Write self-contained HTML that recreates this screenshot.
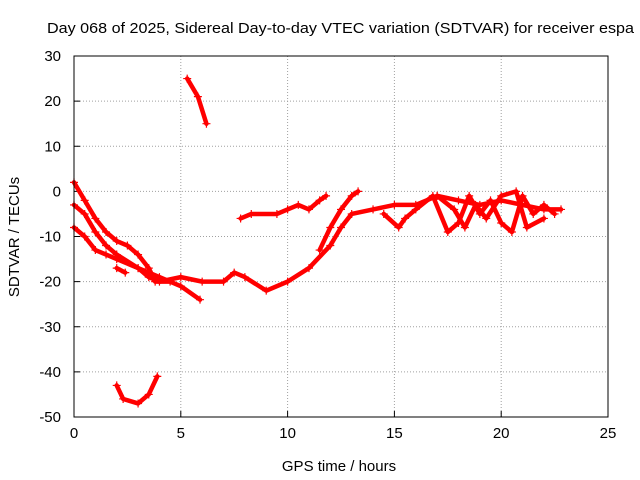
<!DOCTYPE html>
<html><head><meta charset="utf-8"><style>
body{margin:0;background:#fff}
svg{display:block;font-family:"Liberation Sans",sans-serif}
</style></head><body>
<svg id="chart" width="640" height="480">
<text x="47" y="33" font-size="15" textLength="587" lengthAdjust="spacingAndGlyphs">Day 068 of 2025, Sidereal Day-to-day VTEC variation (SDTVAR) for receiver espa</text>
<text x="339" y="471" font-size="15" text-anchor="middle">GPS time / hours</text>
<text transform="translate(19,237) rotate(-90)" font-size="15" text-anchor="middle">SDTVAR / TECUs</text>
<g id="grid"></g>
<g id="axes"></g>
<g id="marks"></g>
<rect x="74" y="56" width="534" height="361" fill="none" stroke="#000"/>
</svg>
<script>
const xTicks=[0,5,10,15,20,25];
const yTicks=[30,20,10,0,-10,-20,-30,-40,-50];
const track1=[[0,2],[0.5,-2],[1,-6],[1.5,-9],[2,-11],[2.5,-12],[3,-14],[3.5,-17],[3.8,-20],[4.5,-20]];
const track2=[[0,-3],[0.5,-5],[1,-9],[1.5,-12],[2,-14],[3,-17],[3.5,-19],[4,-20],[5,-19],[6,-20],[7,-20],[7.5,-18],[8,-19],[9,-22],[10,-20],[11,-17],[12,-12],[12.5,-8],[13,-5],[14,-4],[15,-3],[16,-3],[17,-1],[18,-2],[19,-3],[20,-2],[21,-3],[22,-4],[22.8,-4]];
const track3=[[0,-8],[0.5,-10],[1,-13],[1.5,-14],[2,-15],[3,-17],[4,-19],[5,-21],[5.9,-24]];
const track4=[[2,-17],[2.4,-18]];
const track5=[[2,-43],[2.3,-46],[3,-47],[3.5,-45],[3.9,-41]];
const track6=[[5.3,25],[5.8,21],[6.2,15]];
const track7=[[7.8,-6],[8.3,-5],[9.5,-5],[10,-4],[10.5,-3],[11,-4],[11.5,-2],[11.8,-1]];
const track8=[[11.5,-13],[12,-8],[12.5,-4],[13,-1],[13.3,0]];
const track9=[[14.5,-5],[15.2,-8],[15.5,-6],[16,-4],[16.8,-1],[17.5,-9],[18,-7],[18.5,-1],[19,-5],[19.5,-2],[20,-7],[20.5,-9],[21,-1],[21.5,-5],[22,-3],[22.5,-5]];
const track10=[[17,-1],[17.8,-4],[18.3,-8],[18.8,-3],[19.3,-6],[20,-1],[20.7,0],[21.2,-8],[22,-6]];
const tracks=[track1,track2,track3,track4,track5,track6,track7,track8,track9,track10];
const NS="http://www.w3.org/2000/svg";
const X0=74,X1=608,Y0=417,Y1=56;
const sx=v=>X0+(v-0)/(25-0)*(X1-X0);
const sy=v=>Y0-(v+50)/(80)*(Y0-Y1);
const grid=document.getElementById('grid'),axes=document.getElementById('axes'),marks=document.getElementById('marks');
function mk(t,a,p){const e=document.createElementNS(NS,t);for(const k in a)e.setAttribute(k,a[k]);p.appendChild(e);return e;}
xTicks.forEach(t=>{const x=sx(t);
 if(t>0&&t<25){const g=mk('line',{x1:x,x2:x,y1:Y1,y2:Y0,stroke:'#a0a0a0','stroke-dasharray':'1,2'},grid);
 }
 const tk=mk('line',{x1:x,x2:x,y1:Y0,y2:Y0-6,stroke:'#000'},axes);
 
 const tx=mk('text',{x:x,y:Y0+21,'font-size':15,'text-anchor':'middle'},axes);tx.textContent=t;
 });
yTicks.forEach(t=>{const y=sy(t);
 if(t>-50&&t<30){const g=mk('line',{x1:X0,x2:X1,y1:y,y2:y,stroke:'#a0a0a0','stroke-dasharray':'1,2'},grid);
 }
 const tk=mk('line',{x1:X0,x2:X0+6,y1:y,y2:y,stroke:'#000'},axes);
 
 const tx=mk('text',{x:X0-13,y:y+5,'font-size':15,'text-anchor':'end'},axes);tx.textContent=t;
 });
tracks.forEach(tr=>{
 const pl=mk('polyline',{points:tr.map(p=>sx(p[0])+','+sy(p[1])).join(' '),fill:'none',stroke:'#ff0000','stroke-width':4.5,'stroke-linejoin':'round','stroke-linecap':'round'},marks);
 
 tr.forEach(p=>{const m=mk('path',{d:`M${sx(p[0])-4},${sy(p[1])}h8M${sx(p[0])},${sy(p[1])-4}v8`,stroke:'#ff0000','stroke-width':1.2},marks);
 });
});
</script>
</body></html>
